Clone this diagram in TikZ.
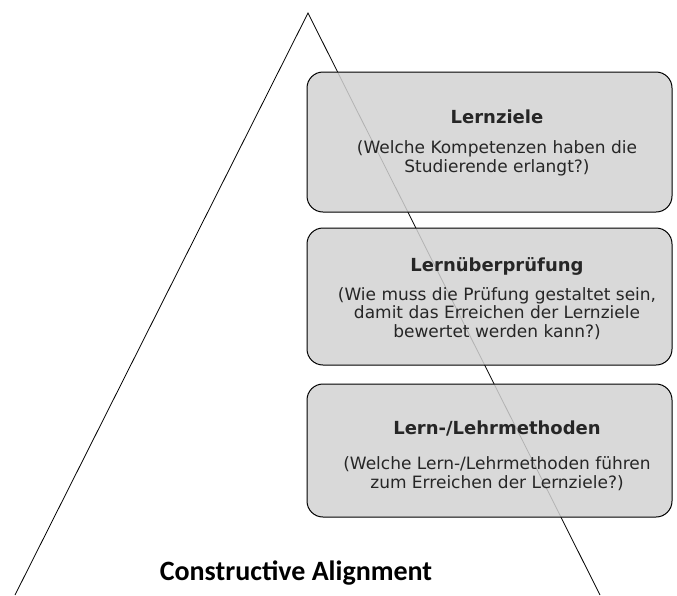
\documentclass[tikz,border=0pt]{standalone}
\usepackage{fontspec}
\setmainfont{DejaVu Sans}
\newfontfamily\capfont{Carlito}
\begin{document}
\begin{tikzpicture}[x=1pt,y=-1pt,
  boxstyle/.style={draw=black, line width=1pt, fill=gray!35, fill opacity=0.85, rounded corners=16pt, minimum width=365pt, inner sep=0pt},
  titletext/.style={font=\fontsize{18}{21}\selectfont\bfseries, text=black!85, inner sep=0pt, anchor=base},
  bodytext/.style={font=\fontsize{17}{18.5}\selectfont, align=center, text=black!85, inner sep=0pt, anchor=base},
  edge/.style={draw=black, line width=0.8pt}]
\useasboundingbox (0,0) rectangle (677,595);
\coordinate (apex) at (308,13);
\coordinate (bl) at (15,595);
\coordinate (br) at (600,595);
\draw[edge] (bl) -- (apex) -- (br);
\node[boxstyle, minimum height=140pt] (b1) at (489.5,142) {};
\node[boxstyle, minimum height=137pt] (b2) at (489.5,296.5) {};
\node[boxstyle, minimum height=133pt] (b3) at (489.5,450.5) {};
\node[titletext] (t1) at (497,123) {Lernziele};
\node[bodytext] (d1) at (497,172) {(Welche Kompetenzen haben die\\Studierende erlangt?)};
\node[titletext] (t2) at (497,271) {Lernüberprüfung};
\node[bodytext] (d2) at (497,337) {(Wie muss die Prüfung gestaltet sein,\\damit das Erreichen der Lernziele\\bewertet werden kann?)};
\node[titletext] (t3) at (497,434) {Lern-/Lehrmethoden};
\node[bodytext] (d3) at (497,488) {(Welche Lern-/Lehrmethoden führen\\zum Erreichen der Lernziele?)};
\node[font=\capfont\fontsize{28}{32}\selectfont\bfseries, inner sep=0pt, anchor=base] (cap) at (296,580) {Constructive Alignment};
\end{tikzpicture}
\end{document}
